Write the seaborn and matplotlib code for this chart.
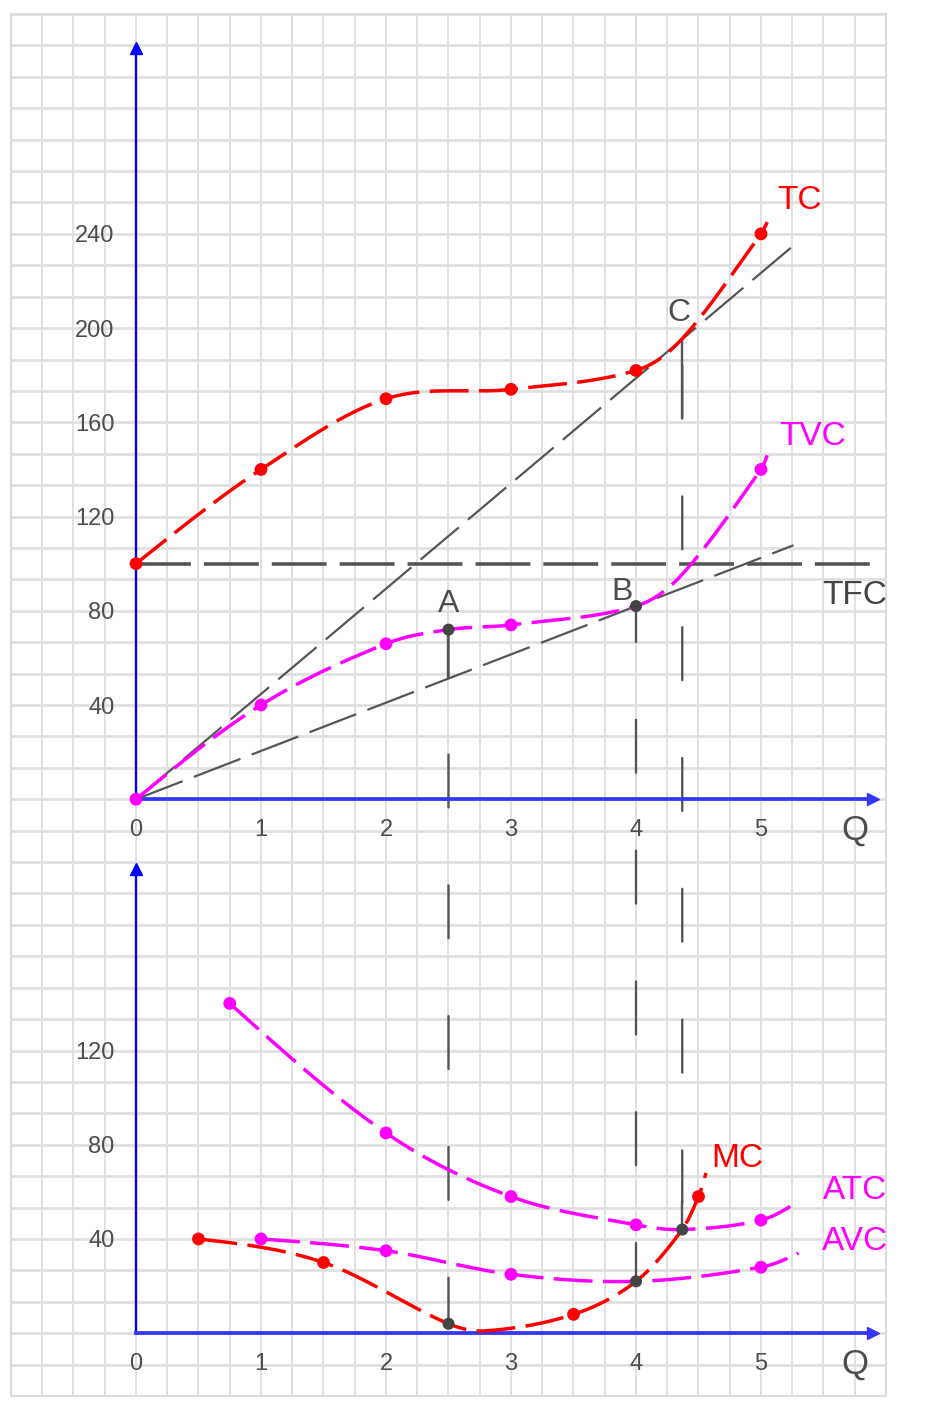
import numpy as np
import matplotlib
matplotlib.use("Agg")
import matplotlib.pyplot as plt
import seaborn as sns
from matplotlib.patches import ConnectionPatch

# ------------------------------------------------------------------ data
Q_TICKS = [1, 2, 3, 4, 5]
TOP_YTICKS = [40, 80, 120, 160, 200, 240]
BOT_YTICKS = [40, 80, 120]

# top panel: totals
TC_x = [0, 1, 2, 3, 4, 4.37, 5, 5.05]
TC_y = [100, 140, 170, 174, 182, 195.5, 240, 245]
TC_dot_x = [0, 1, 2, 3, 4, 5]
TC_dot_y = [100, 140, 170, 174, 182, 240]

TVC_x = [0, 1, 2, 2.5, 3, 4, 4.37, 5, 5.05]
TVC_y = [0, 40, 66, 72, 74, 82, 95.5, 140, 146]
TVC_dot_x = [0, 1, 2, 3, 5]
TVC_dot_y = [0, 40, 66, 74, 140]

TFC_x = [0, 5.92]
TFC_y = [100, 100]
RAY_ATC_x = [0, 5.25]
RAY_ATC_y = [0, 234.6]
RAY_AVC_x = [0, 5.26]
RAY_AVC_y = [0, 107.8]

ABC_x = [2.5, 4, 4.37]          # A, B, C
ABC_top_y = [72, 82, 195.5]
GRAY_top_x = [2.5, 4]
GRAY_top_y = [72, 82]

# bottom panel: averages and marginal
ATC_x = [0.75, 2, 3, 4, 4.37, 5, 5.3]
ATC_y = [140, 85, 58, 46, 44, 48, 56]
ATC_dot_x = [0.75, 2, 3, 4, 5]
ATC_dot_y = [140, 85, 58, 46, 48]

AVC_x = [1, 2, 3, 4, 5, 5.3]
AVC_y = [40, 35, 25, 22, 28, 34]
AVC_dot_x = [1, 2, 3, 5]
AVC_dot_y = [40, 35, 25, 28]

MC_x = [0.5, 1.5, 2.5, 2.8, 3.5, 4, 4.37, 4.5, 4.56]
MC_y = [40, 30, 4, 1, 8, 22, 44, 58, 68]
MC_dot_x = [0.5, 1.5, 3.5, 4.5]
MC_dot_y = [40, 30, 8, 58]

GRAY_bot_x = [2.5, 4, 4.37]
GRAY_bot_y = [4, 22, 44]

# ------------------------------------------------------------------ style
sns.set_style("white")
plt.rcParams["font.family"] = ["Liberation Sans", "DejaVu Sans"]

RED = "#ff0000"
MAG = "#ff00ff"
GRAY = "#555555"
DOT = "#444444"
BLUE = "#0000ff"
BLUE2 = "#3535f5"
TXT = "#4d4d4d"


def smooth(xs, ys, n=60):
    xs = np.asarray(xs, float)
    ys = np.asarray(ys, float)
    k = len(xs)
    m = np.zeros(k)
    for i in range(1, k - 1):
        m[i] = (ys[i + 1] - ys[i - 1]) / (xs[i + 1] - xs[i - 1])
    s0 = (ys[1] - ys[0]) / (xs[1] - xs[0])
    s1 = (ys[-1] - ys[-2]) / (xs[-1] - xs[-2])
    m[0] = (3 * s0 - m[1]) / 2
    m[-1] = (3 * s1 - m[-2]) / 2
    ox, oy = [], []
    for i in range(k - 1):
        h = xs[i + 1] - xs[i]
        t = np.linspace(0, 1, n, endpoint=(i == k - 2))
        h00 = 2 * t**3 - 3 * t**2 + 1
        h10 = t**3 - 2 * t**2 + t
        h01 = -2 * t**3 + 3 * t**2
        h11 = t**3 - t**2
        ox.append(xs[i] + t * h)
        oy.append(h00 * ys[i] + h10 * h * m[i] + h01 * ys[i + 1] + h11 * h * m[i + 1])
    return np.concatenate(ox), np.concatenate(oy)


W, H = 935, 1404
fig = plt.figure(figsize=(W / 100, H / 100), dpi=100)
fig.patch.set_facecolor("white")

GL, GR, GT, GB = 11, 886, 14, 1396
cell = (GB - GT) / 44.0


def frame(x0, y0, x1, y1):
    return [x0 / W, 1 - y1 / H, (x1 - x0) / W, (y1 - y0) / H]


# graph-paper background
bg = fig.add_axes(frame(GL, GT, GR, GB))
bg.set_xlim(-1, 6)
bg.set_ylim(0, 44)
bg.set_xticks(np.arange(-1, 6.001, 0.25))
bg.set_yticks(np.arange(0, 45))
bg.grid(True, axis="x", color="#d9d9d9", lw=1.1)
bg.grid(True, axis="y", color="#e0e0e0", lw=2.0)
bg.tick_params(length=0, labelbottom=False, labelleft=False)
for sp in bg.spines.values():
    sp.set_color("#dcdcdc")
    sp.set_linewidth(1.5)
bg.set_facecolor("white")
bg.set_zorder(0)

split = GT + 27 * cell
U = 40 / 3
ax1 = fig.add_axes(frame(GL, GT, GR, split))
ax2 = fig.add_axes(frame(GL, split, GR, GB))
ax1.set_xlim(-1, 6)
ax1.set_ylim(-2 * U, 25 * U)
ax2.set_xlim(-1, 6)
ax2.set_ylim(-2 * U, 15 * U)

for ax, yt, ytop in [(ax1, TOP_YTICKS, 319), (ax2, BOT_YTICKS, 197)]:
    ax.patch.set_alpha(0)
    ax.set_zorder(2)
    ax.spines["top"].set_visible(False)
    ax.spines["right"].set_visible(False)
    ax.spines["left"].set_position(("data", 0))
    ax.spines["bottom"].set_position(("data", 0))
    ax.spines["left"].set_bounds(0, ytop)
    ax.spines["bottom"].set_bounds(0, 5.9)
    ax.spines["left"].set_color(BLUE)
    ax.spines["left"].set_linewidth(1.7)
    ax.spines["bottom"].set_color(BLUE2)
    ax.spines["bottom"].set_linewidth(2.7)
    ax.set_yticks(yt)
    ax.set_yticklabels([str(v) for v in yt])
    ax.set_xticks(Q_TICKS)
    ax.set_xticklabels([str(v) for v in Q_TICKS])
    ax.set_xticks([0], labels=["0"], minor=True)
    ax.tick_params(axis="y", direction="inout", length=17, width=1.7, color=BLUE,
                   labelcolor=TXT, labelsize=17, pad=7)
    ax.tick_params(axis="x", which="major", direction="inout", length=16, width=1.7,
                   color=BLUE2, labelcolor=TXT, labelsize=17, pad=6)
    ax.tick_params(axis="x", which="minor", length=0, labelcolor=TXT, labelsize=17, pad=14)
    ax.set_xlabel("")
    ax.set_ylabel("")
    ax.grid(False)
    # arrow heads
    ax.plot([0], [ytop], marker="^", ms=8, color=BLUE, clip_on=False, zorder=6)
    ax.plot([5.9], [0], marker=">", ms=8, color=BLUE2, clip_on=False, zorder=6)
    ax.text(5.75, -13, "Q", ha="center", va="center", fontsize=25, color=TXT)

CURVE_LW = 2.5
CURVE_LS = (0, (11.2, 3.0))


def curve(ax, xs, ys, color):
    sx, sy = smooth(xs, ys)
    sns.lineplot(x=sx, y=sy, ax=ax, color=color, linewidth=CURVE_LW,
                 linestyle=CURVE_LS, sort=False, estimator=None, zorder=4)


def dots(ax, xs, ys, color, s=85):
    sns.scatterplot(x=xs, y=ys, ax=ax, color=color, s=s, edgecolor="none",
                    zorder=5, clip_on=False, legend=False)


# ---------------- top panel
sns.lineplot(x=TFC_x, y=TFC_y, ax=ax1, color=GRAY, linewidth=2.6,
             linestyle=(0, (15.2, 3.6)), sort=False, estimator=None, zorder=3)
sns.lineplot(x=RAY_ATC_x, y=RAY_ATC_y, ax=ax1, color=GRAY, linewidth=1.6,
             linestyle=(0, (22.5, 5.4)), sort=False, estimator=None, zorder=3)
sns.lineplot(x=RAY_AVC_x, y=RAY_AVC_y, ax=ax1, color=GRAY, linewidth=1.6,
             linestyle=(0, (22.5, 5.4)), sort=False, estimator=None, zorder=3)
curve(ax1, TC_x, TC_y, RED)
curve(ax1, TVC_x, TVC_y, MAG)
dots(ax1, TC_dot_x, TC_dot_y, RED)
dots(ax1, TVC_dot_x, TVC_dot_y, MAG)
dots(ax1, GRAY_top_x, GRAY_top_y, DOT, s=75)

# solid stubs of the drop lines
ax1.plot([2.5, 2.5], [72, 51.3], color=GRAY, lw=1.7, zorder=3)
ax1.plot([4.37, 4.37], [195.5, 162], color=GRAY, lw=1.7, zorder=3)
ax2.plot([4.37, 4.37], [44, 56], color=GRAY, lw=1.7, zorder=3)

LBL = 24
ax1.text(5.31, 254, "TC", color=RED, fontsize=LBL, ha="center", va="center")
ax1.text(5.41, 154, "TVC", color=MAG, fontsize=LBL, ha="center", va="center")
ax1.text(5.75, 86.5, "TFC", color="#444444", fontsize=LBL, ha="center", va="center")
ax1.text(4.34, 206.5, "C", color=TXT, fontsize=23, ha="center", va="center")
ax1.text(2.5, 83, "A", color=TXT, fontsize=23, ha="center", va="center")
ax1.text(3.89, 88, "B", color=TXT, fontsize=23, ha="center", va="center")

# ---------------- bottom panel
curve(ax2, ATC_x, ATC_y, MAG)
curve(ax2, AVC_x, AVC_y, MAG)
curve(ax2, MC_x, MC_y, RED)
dots(ax2, ATC_dot_x, ATC_dot_y, MAG)
dots(ax2, AVC_dot_x, AVC_dot_y, MAG)
dots(ax2, MC_dot_x, MC_dot_y, RED)
dots(ax2, GRAY_bot_x, GRAY_bot_y, DOT, s=75)

ax2.text(4.81, 74, "MC", color=RED, fontsize=LBL, ha="center", va="center")
ax2.text(5.75, 60.5, "ATC", color=MAG, fontsize=LBL, ha="center", va="center")
ax2.text(5.75, 39, "AVC", color=MAG, fontsize=LBL, ha="center", va="center")

# ---------------- dashed drop lines spanning both panels
offsets = [2.5, 7.2, 44.0]
for qx, ty, by, off in zip(ABC_x, ABC_top_y, GRAY_bot_y, offsets):
    con = ConnectionPatch(xyA=(qx, ty), coordsA=ax1.transData,
                          xyB=(qx, by), coordsB=ax2.transData,
                          color=GRAY, lw=1.7, linestyle=(off, (22.4, 33.0)),
                          shrinkA=0, shrinkB=0, zorder=1.5)
    fig.add_artist(con)

fig.savefig("out.png", dpi=100, facecolor="white")
